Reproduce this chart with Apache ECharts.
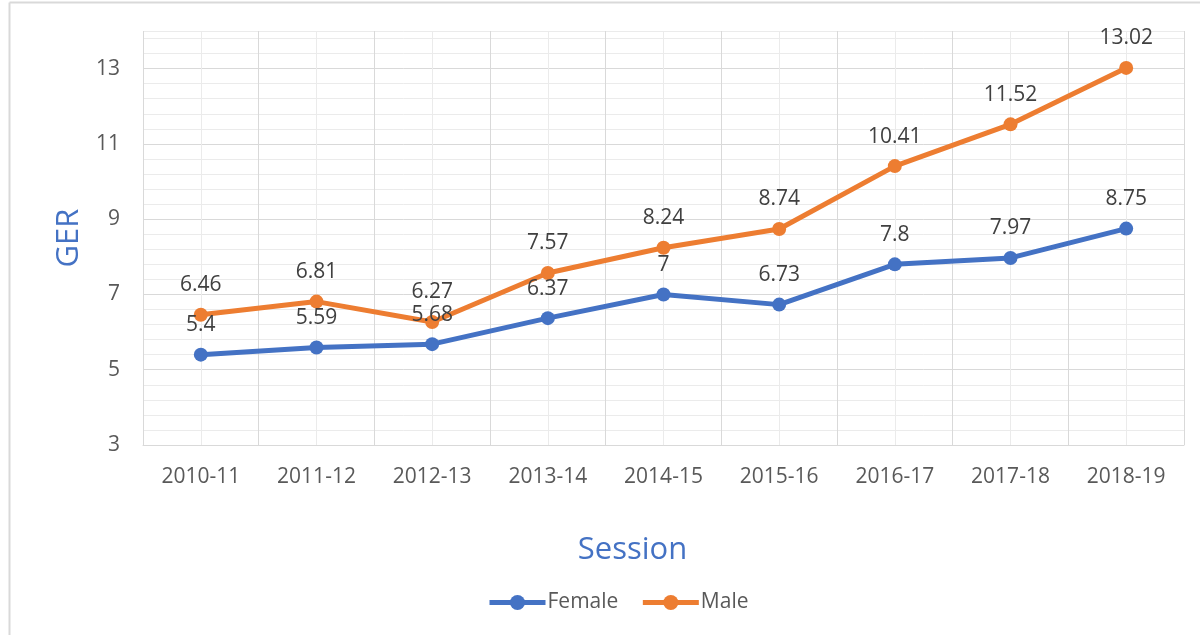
<!DOCTYPE html>
<html>
<head>
<meta charset="utf-8">
<script src="https://cdn.jsdelivr.net/npm/echarts@6.0.0/dist/echarts.min.js"></script>
<style>
  html, body { margin: 0; padding: 0; background: #fff; }
  #chart { width: 1200px; height: 635px; }
</style>
</head>
<body>
<div id="chart"></div>
<script>
const sessions = ['2010-11', '2011-12', '2012-13', '2013-14', '2014-15', '2015-16', '2016-17', '2017-18', '2018-19']
const female = [5.4, 5.59, 5.68, 6.37, 7, 6.73, 7.8, 7.97, 8.75]
const male = [6.46, 6.81, 6.27, 7.57, 8.24, 8.74, 10.41, 11.52, 13.02]
const yLabels = [3, 5, 7, 9, 11, 13]

const font = 'Open Sans'
const chart = echarts.init(document.getElementById('chart'))

const labelStyle = {
  show: true,
  position: 'top',
  distance: 12,
  fontFamily: font,
  fontSize: 21,
  color: '#404040',
}

const option = {
  backgroundColor: '#fff',
  animation: false,
  textStyle: { fontFamily: font },
  graphic: [
    // chart area border (left and top edges)
    { type: 'line', shape: { x1: 9.5, y1: 2.5, x2: 9.5, y2: 635 }, style: { stroke: '#d9d9d9', lineWidth: 2 } },
    { type: 'line', shape: { x1: 9.5, y1: 2.5, x2: 1200, y2: 2.5 }, style: { stroke: '#d9d9d9', lineWidth: 2 } },
  ],
  grid: {
    left: 143,
    top: 31,
    width: 1041,
    height: 414,
  },
  legend: {
    left: 482,
    top: 587,
    itemWidth: 56,
    itemHeight: 19,
    itemGap: 22,
    lineStyle: { width: 5 },
    textStyle: { fontFamily: font, fontSize: 21, color: '#595959', padding: [0, 0, 0, -3] },
    data: ['Female', 'Male'],
  },
  xAxis: [
    {
      type: 'category',
      data: sessions,
      boundaryGap: true,
      name: 'Session',
      nameLocation: 'middle',
      nameGap: 90,
      nameTextStyle: { fontFamily: font, fontSize: 31, color: '#4472C4', padding: [0, 62, 0, 0] },
      axisLine: { lineStyle: { color: '#d9d9d9', width: 1 } },
      axisTick: { show: false },
      axisLabel: { fontFamily: font, fontSize: 21, color: '#595959', margin: 22 },
      splitLine: { show: false },
    },
    {
      // helper axis for the vertical gridlines (boundaries and centres)
      type: 'value',
      position: 'top',
      min: 0,
      max: sessions.length * 2,
      interval: 1,
      axisLine: { show: false },
      axisTick: { show: false },
      axisLabel: { show: false },
      splitLine: { show: true, lineStyle: { color: ['#d9d9d9', '#ebebeb'], width: 1 } },
    },
  ],
  yAxis: {
    type: 'value',
    min: 3,
    max: 14,
    interval: 0.4,
    name: 'GER',
    nameLocation: 'middle',
    nameGap: 57,
    nameRotate: 90,
    nameTextStyle: { fontFamily: font, fontSize: 31, color: '#4472C4' },
    axisLine: { show: false },
    axisTick: { show: false },
    axisLabel: {
      fontFamily: font,
      fontSize: 21,
      color: '#595959',
      margin: 23,
      formatter: (v) => {
        const r = Math.round(v)
        return Math.abs(v - r) < 1e-6 && yLabels.includes(r) ? String(r) : ''
      },
    },
    splitLine: {
      show: true,
      lineStyle: { color: ['#d9d9d9', '#ebebeb', '#ebebeb', '#ebebeb', '#ebebeb'], width: 1 },
    },
  },
  series: [
    {
      name: 'Female',
      type: 'line',
      data: female,
      symbol: 'circle',
      symbolSize: 14,
      lineStyle: { width: 5, color: '#4472C4' },
      itemStyle: { color: '#4472C4' },
      label: labelStyle,
    },
    {
      name: 'Male',
      type: 'line',
      data: male,
      symbol: 'circle',
      symbolSize: 14,
      lineStyle: { width: 5, color: '#ED7D31' },
      itemStyle: { color: '#ED7D31' },
      label: labelStyle,
    },
  ],
}

chart.setOption(option)
</script>
</body>
</html>
